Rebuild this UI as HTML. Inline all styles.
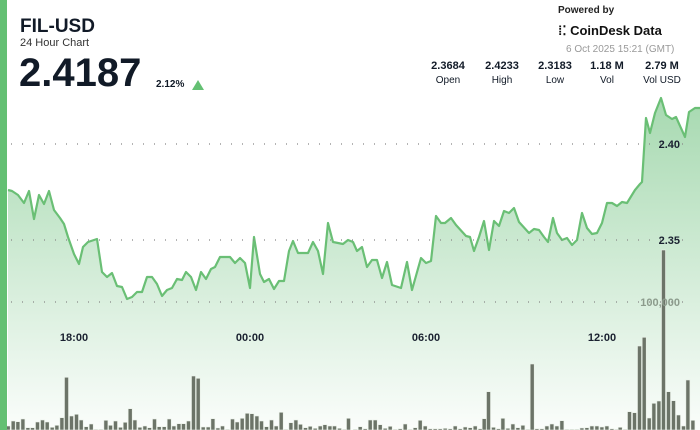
<!DOCTYPE html>
<html><head><meta charset="utf-8"><style>
body{margin:0;width:700px;height:430px;overflow:hidden;background:#fff;font-family:"Liberation Sans",sans-serif;position:relative}
.t{position:absolute;white-space:nowrap}
</style></head><body>
<svg width="700" height="430" style="position:absolute;left:0;top:0">
<defs><linearGradient id="g" x1="0" y1="0" x2="0" y2="1">
<stop offset="0" stop-color="#6cc07c" stop-opacity="0.6"/>
<stop offset="1" stop-color="#6cc07c" stop-opacity="0.03"/></linearGradient></defs>
<g id="area"></g>
<g stroke="#888" stroke-width="1.2" stroke-dasharray="1,10">
<line x1="11" y1="144" x2="690" y2="144"/><line x1="11" y1="240" x2="690" y2="240"/><line x1="11" y1="302" x2="690" y2="302"/></g>
<g id="bars"></g>
<g font-family="Liberation Sans" font-weight="bold" font-size="11" fill="#1a2130">
<text x="680" y="148" text-anchor="end">2.40</text><text x="680" y="244" text-anchor="end">2.35</text>
<text x="680" y="306" text-anchor="end" fill="#8c9b8c">100,000</text>
<text x="74" y="341" text-anchor="middle">18:00</text><text x="250" y="341" text-anchor="middle">00:00</text>
<text x="426" y="341" text-anchor="middle">06:00</text><text x="602" y="341" text-anchor="middle">12:00</text></g>
<rect x="0" y="0" width="7" height="430" fill="#64c073"/>
</svg>
<div class="t" style="left:20px;top:16px;font-size:19px;font-weight:bold;color:#111a27">FIL-USD</div>
<div class="t" style="left:20px;top:37px;font-size:11px;color:#333">24 Hour Chart</div>
<div class="t" style="left:19px;top:51px;font-size:40px;font-weight:bold;color:#111a27">2.4187</div>
<div class="t" style="left:156px;top:79px;font-size:10px;font-weight:bold;color:#111a27">2.12%</div>
<div class="t" style="left:192px;top:80px;width:0;height:0;border-left:6px solid transparent;border-right:6px solid transparent;border-bottom:10px solid #64c073"></div>
<div class="t" style="left:558px;top:5px;font-size:10px;font-weight:bold;color:#222">Powered by</div>
<div class="t" style="left:558px;top:23px;font-size:13px;font-weight:bold;color:#111">⁞⁚ CoinDesk Data</div>
<div class="t" style="left:566px;top:44px;font-size:10px;color:#999">6 Oct 2025 15:21 (GMT)</div>
<div class="t" style="left:426px;top:60px;font-size:11px;font-weight:bold;color:#111a27;text-align:center;width:44px">2.3684<br><span style="font-weight:normal;font-size:10px;line-height:17px">Open</span></div>
<div class="t" style="left:480px;top:60px;font-size:11px;font-weight:bold;color:#111a27;text-align:center;width:44px">2.4233<br><span style="font-weight:normal;font-size:10px;line-height:17px">High</span></div>
<div class="t" style="left:533px;top:60px;font-size:11px;font-weight:bold;color:#111a27;text-align:center;width:44px">2.3183<br><span style="font-weight:normal;font-size:10px;line-height:17px">Low</span></div>
<div class="t" style="left:585px;top:60px;font-size:11px;font-weight:bold;color:#111a27;text-align:center;width:44px">1.18 M<br><span style="font-weight:normal;font-size:10px;line-height:17px">Vol</span></div>
<div class="t" style="left:640px;top:60px;font-size:11px;font-weight:bold;color:#111a27;text-align:center;width:44px">2.79 M<br><span style="font-weight:normal;font-size:10px;line-height:17px">Vol USD</span></div>
<script>
var p=[[8,190],[12,191],[18,195],[24,203],[29,191],[34,219],[39,195],[44,204],[49,191],[54,210],[60,218],[64,224],[68,237],[74,254],[79,264],[83,247],[88,242],[97,239],[102,272],[107,277],[112,273],[117,286],[122,287],[127,299],[132,297],[137,292],[142,292],[147,277],[152,277],[157,284],[162,296],[167,290],[172,288],[177,279],[182,280],[186,272],[191,277],[196,290],[201,272],[206,279],[211,269],[215,267],[220,257],[225,257],[230,257],[235,263],[240,258],[245,263],[250,288],[254,237],[260,274],[264,282],[269,279],[274,289],[279,281],[284,281],[289,251],[293,241],[298,253],[308,253],[313,242],[318,251],[323,274],[328,223],[333,242],[343,244],[348,240],[353,242],[357,251],[362,247],[367,267],[372,260],[377,260],[382,278],[387,262],[392,285],[401,288],[407,262],[412,290],[421,258],[426,263],[431,261],[436,216],[441,223],[445,223],[451,218],[456,225],[466,236],[470,237],[474,251],[479,237],[484,221],[489,250],[494,221],[499,226],[504,211],[509,213],[514,208],[519,222],[529,233],[534,229],[539,230],[544,237],[548,242],[553,218],[557,233],[562,240],[567,238],[572,245],[577,240],[582,213],[587,228],[592,234],[597,233],[602,223],[607,203],[612,203],[617,206],[622,202],[627,203],[635,190],[640,184],[642,182],[646,118],[650,133],[655,113],[661,98],[666,115],[672,119],[676,117],[685,137],[689,112],[695,108],[700,108]];
var d=p.map(function(a,i){return(i?'L':'M')+a[0]+','+a[1]}).join('');
document.getElementById('area').innerHTML='<path d="'+d+'L700,430L8,430Z" fill="url(#g)"/><path d="'+d+'" fill="none" stroke="#6abf75" stroke-width="2.2" stroke-linejoin="round"/>';
var a=[[24,318],[39,303],[53,305],[68,297],[83,323],[97,323],[112,306],[127,300],[141,306],[156,322],[170,316],[185,293],[199,172],[214,288],[229,283],[243,300],[258,320],[273,312],[287,328],[302,328],[317,301],[331,316],[346,303],[361,322],[375,307],[390,266],[404,300],[419,322],[434,318],[448,323],[463,297],[477,320],[492,320],[507,297],[521,318],[536,311],[550,311],[565,303],[580,168],[594,175],[609,321],[624,321],[638,296],[653,324],[667,318],[682,328],[697,297],[711,306],[726,295],[741,280],[755,281],[770,288],[784,303],[799,320],[814,300],[828,318],[843,277],[857,328],[872,308],[887,300],[901,313],[916,323],[930,319],[945,325],[960,318],[974,314],[989,318],[1003,318],[1018,325],[1033,328],[1045,295]];
var b=[[15,328],[30,320],[45,326],[60,300],[75,300],[90,314],[105,325],[120,319],[135,328],[150,326],[165,312],[180,328],[195,323],[210,301],[225,318],[240,326],[255,326],[270,326],[285,325],[300,326],[315,318],[330,326],[345,321],[360,323],[375,318],[390,326],[402,296],[415,215],[430,322],[445,326],[458,295],[473,325],[488,312],[503,323],[518,316],[533,328],[546,132],[560,326],[575,326],[590,318],[605,312],[620,318],[635,302],[650,328],[665,328],[680,328],[695,324],[710,323],[725,318],[740,318],[755,321],[770,318],[785,326],[800,328],[810,322],[825,328],[838,275],[853,278],[868,78],[882,52],[897,294],[911,250],[926,243],[940,-210],[955,215],[970,242],[985,285],[1000,318],[1013,180],[1028,301]];
var s='';
function add(x,z){var t=320+z/3;s+='<rect x="'+(x-1.8).toFixed(1)+'" y="'+t.toFixed(1)+'" width="4" height="'+(430-t).toFixed(1)+'" fill="#6c7468" stroke="#e8efe6" stroke-width="0.6"/>';}
a.forEach(function(v){add(v[0]/3,v[1])});b.forEach(function(v){add(350+v[0]/3,v[1])});
document.getElementById('bars').innerHTML=s;
</script>
</body></html>
